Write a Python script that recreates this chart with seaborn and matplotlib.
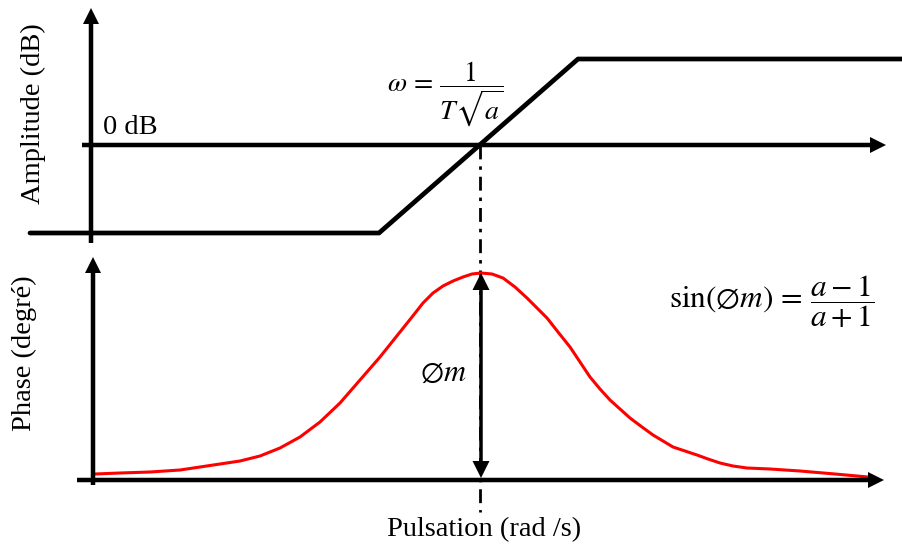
import numpy as np
import pandas as pd
import matplotlib
matplotlib.use("Agg")
import matplotlib.pyplot as plt
import seaborn as sns

# Schematic Bode diagram of a phase-lead corrector
# coordinates are the sketch grid of the original drawing (y grows downward)

# amplitude asymptotes
amp_w = [30, 379, 578, 903]
amp_level = [233, 233, 59, 59]

# phase curve
phase_w = [95, 120, 150, 180, 200, 220, 240, 260, 280, 300, 320, 340, 360, 380,
           400, 412, 423, 433, 443, 453, 463, 472, 481, 492, 503, 515, 527, 537,
           547, 558, 570, 580, 590, 600, 610, 620, 630, 642, 653, 663, 673, 685,
           697, 708, 720, 733, 747, 770, 800, 835, 868]
phase_level = [474, 473, 472, 470, 467, 464, 461, 456, 448, 437, 422, 403, 380, 357,
               332, 317, 303, 293, 286, 281, 277, 274, 273, 274, 278, 287, 298, 308,
               318, 332, 347, 362, 377, 389, 400, 409, 418, 427, 435, 441, 447, 451,
               455, 459, 463, 466, 468, 469, 471, 474, 477]

df_amp = pd.DataFrame({"w": amp_w, "level": amp_level})
df_phase = pd.DataFrame({"w": phase_w, "level": phase_level})

sns.set_style("white")
plt.rcParams["font.family"] = ["Liberation Serif", "DejaVu Serif"]
plt.rcParams["mathtext.fontset"] = "stix"
plt.rcParams["lines.scale_dashes"] = False
plt.rcParams["text.color"] = "black"

fig = plt.figure(figsize=(9.03, 5.47), dpi=100)
ax = fig.add_axes([0, 0, 1, 1])

# guide line at the centre pulsation
w_c = 480
ax.plot([w_c, w_c], [145, 512], color="black", lw=2.0,
        linestyle=(0, (10, 5, 2.5, 5)), zorder=1)

# axes with arrows
arrow_kw = dict(width=4.5, head_width=16, head_length=16,
                length_includes_head=True, color="black", lw=0, zorder=3)
ax.arrow(91, 243, 0, 8 - 243, **arrow_kw)
ax.arrow(82, 145, 886 - 82, 0, **arrow_kw)
ax.arrow(93, 485, 0, 257 - 485, **arrow_kw)
ax.arrow(77, 480, 884 - 77, 0, **arrow_kw)

# curves
sns.lineplot(data=df_amp, x="w", y="level", color="black", lw=3.4, ax=ax,
             sort=False, zorder=2)
sns.lineplot(data=df_phase, x="w", y="level", color="red", lw=2.2, ax=ax,
             sort=False, zorder=2)
ax.set_xlim(0, 903)
ax.set_ylim(547, 0)
ax.axis("off")

# maximum phase double arrow
mid = 375
dbl_kw = dict(width=3.5, head_width=17, head_length=17,
              length_includes_head=True, color="black", lw=0, zorder=4)
ax.arrow(w_c + 1, mid, 0, 273 - mid, **dbl_kw)
ax.arrow(w_c + 1, mid, 0, 478 - mid, **dbl_kw)

# texts
ax.text(103, 128, "0 dB", fontsize=20.5, va="center", ha="left")
ax.text(33, 114, "Amplitude (dB)", fontsize=20.5, rotation=90,
        va="center", ha="center")
ax.text(24, 353, "Phase (degré)", fontsize=20.5, rotation=90,
        va="center", ha="center")
ax.text(484, 530, "Pulsation (rad /s)", fontsize=20.5, va="center", ha="center")

ax.text(445, 94, r"$\omega\,=\,\dfrac{1}{T\sqrt{a}}$", fontsize=20,
        va="center", ha="center")
ax.text(772, 302, r"$\mathrm{sin}(\varnothing m)\,=\,\dfrac{a-1}{a+1}$",
        fontsize=22.5, va="center", ha="center")
ax.text(443, 373, r"$\varnothing m$", fontsize=22, va="center", ha="center")

fig.savefig("out.png", dpi=100)
